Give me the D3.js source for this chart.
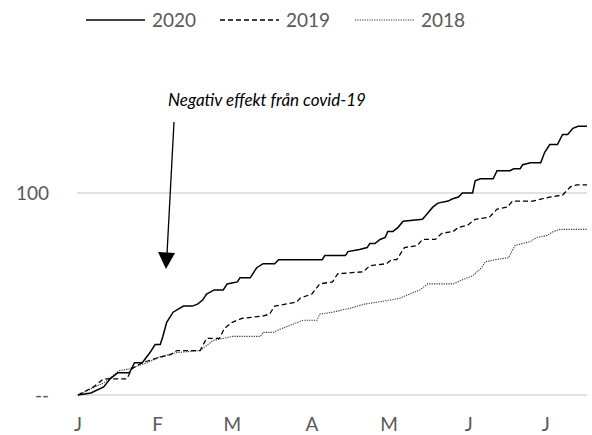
<!DOCTYPE html>
<meta charset = "utf-8">
<style>

body { margin: 0; background: #fff; }
text { font-family: Lato, "Open Sans", sans-serif; fill: #595959; }
.series path { fill: none; }

</style>

<svg width = "592" height="435"></svg>
<script src="https://d3js.org/d3.v7.min.js"></script>

<script>

//Data: cumulative count by day of year (0 = 1 Jan)
let days2020 = [0,5,10,12.5,15.5,20,22,25,28,30,32,33,34.5,37,41,44.5,46.5,48.5,50,53,56.5,58,62,63,67,69.5,72,76.5,78,95,96,104,105,109.5,112.5,113.5,115.5,117.5,119.5,120.5,122.5,124.5,126.5,134,136,138,140,144,145.5,148,149.5,153.5,154.5,156.5,161.5,163,168,169.5,172,173,176,180,181.5,183.5,186.5,188.5,190.5,192.5,194.5,198];
let vals2020 = [0,1,4,8,11,11,16,16,21,25,25,29,36,41,44,44,45,47,50,52,52,55,56,58,58,63,65,65,67,67,69,69,71,72,73,75,75,77,78,81,81,83,86,87,90,93,95,96,97,98,100,100,106,107,107,111,111,112,112,114,115,115,120,124,124,129,129,132,133,133];

let days2019 = [0,6,10,19,21,25,30,36,38.5,47.5,50,55,57,60,64,71.5,74.5,76.5,85,86.5,91,94,99,101,111,113.5,120,122,124,127,132,134,139,141.5,146,148,151.5,154.5,160,163,167,169,177,183.5,188.5,191.5,194,198];
let vals2019 = [0,4,8,8,13,16,18,20,22,22,28,28,33,36,38,39,40,44,46,48,50,55,56,60,61,64,65,67,67,73,74,77,77,80,81,83,84,87,88,92,93,96,96,98,99,103,104,104];

let days2018 = [0,10,16,20,27,32,38.5,47.5,52.5,60,71,72,76,79.5,83.5,87.5,93,94,99,106,111.5,116.5,121.5,125.5,129,133,136,146,149.5,153.5,157,158.5,162.5,167.5,170,176,178.5,182.5,185,187.5,198];
let vals2018 = [0,6,12,13,16,19,21,22,27,29,29,31,31,33,35,37,37,40,41,43,45,46,47,48,50,52,55,55,57,59,63,66,67,68,74,76,78,79,81,82,82];

let monthStarts = [0,31,60,91,121,152,182];
let monthLabels = ["J","F","M","A","M","J","J"];
let yTicks = [0,100];
let yTickLabels = ["--","100"];
let seriesNames = ["2020","2019","2018"];

let svg = d3.select("svg");

let x = d3.scaleLinear().domain([0, 198]).range([78, 587]);
let y = d3.scaleLinear().domain([0, 100]).range([395, 193]);

let styles = {
  "2020": {width: 1.5, dash: null, color: "#000"},
  "2019": {width: 1.3, dash: "5,3", color: "#000"},
  "2018": {width: 1.1, dash: "1.2,1.2", color: "#333"}
};

let series = [
  {name: "2020", pts: days2020.map((d, i) => [d, vals2020[i]])},
  {name: "2019", pts: days2019.map((d, i) => [d, vals2019[i]])},
  {name: "2018", pts: days2018.map((d, i) => [d, vals2018[i]])}
];

//gridline at 100 and base line
svg.append("g")
  .selectAll("line")
  .data(yTicks)
  .enter().append("line")
  .attr("x1", 77)
  .attr("x2", 587)
  .attr("y1", d => y(d))
  .attr("y2", d => y(d))
  .attr("stroke", "#d9d9d9")
  .attr("stroke-width", 1.3);

svg.append("g")
  .selectAll("text")
  .data(yTicks)
  .enter().append("text")
  .attr("x", 49)
  .attr("y", d => y(d) + 7)
  .attr("text-anchor", "end")
  .style("font-size", "19px")
  .text((d, i) => yTickLabels[i]);

svg.append("g")
  .selectAll("text")
  .data(monthStarts)
  .enter().append("text")
  .attr("x", d => x(d))
  .attr("y", 431)
  .attr("text-anchor", "middle")
  .style("font-size", "19px")
  .text((d, i) => monthLabels[i]);

let line = d3.line()
  .x(d => x(d[0]))
  .y(d => y(d[1]));

svg.append("g").attr("class", "series")
  .selectAll("path")
  .data(series.slice().reverse())
  .enter().append("path")
  .attr("d", d => line(d.pts))
  .attr("stroke", d => styles[d.name].color)
  .attr("stroke-width", d => styles[d.name].width)
  .attr("stroke-dasharray", d => styles[d.name].dash);

//legend
let legendX = [86, 220, 355];
let legend = svg.append("g")
  .selectAll("g")
  .data(seriesNames)
  .enter().append("g")
  .attr("transform", (d, i) => "translate(" + legendX[i] + ",0)");

legend.append("line")
  .attr("x1", 0)
  .attr("x2", 59)
  .attr("y1", 20)
  .attr("y2", 20)
  .attr("stroke", d => styles[d].color)
  .attr("stroke-width", d => styles[d].width)
  .attr("stroke-dasharray", d => styles[d].dash);

legend.append("text")
  .attr("x", 66)
  .attr("y", 27)
  .style("font-size", "19px")
  .text(d => d);

//annotation
svg.append("text")
  .attr("x", 168)
  .attr("y", 106)
  .style("font-size", "17px")
  .style("font-style", "italic")
  .style("fill", "#000")
  .text("Negativ effekt från covid-19");

svg.append("line")
  .attr("x1", 174)
  .attr("y1", 122)
  .attr("x2", 167)
  .attr("y2", 254)
  .attr("stroke", "#000")
  .attr("stroke-width", 1.3);

svg.append("path")
  .attr("d", "M158,252 L175,253 L166,269 Z")
  .attr("fill", "#000");

</script>
